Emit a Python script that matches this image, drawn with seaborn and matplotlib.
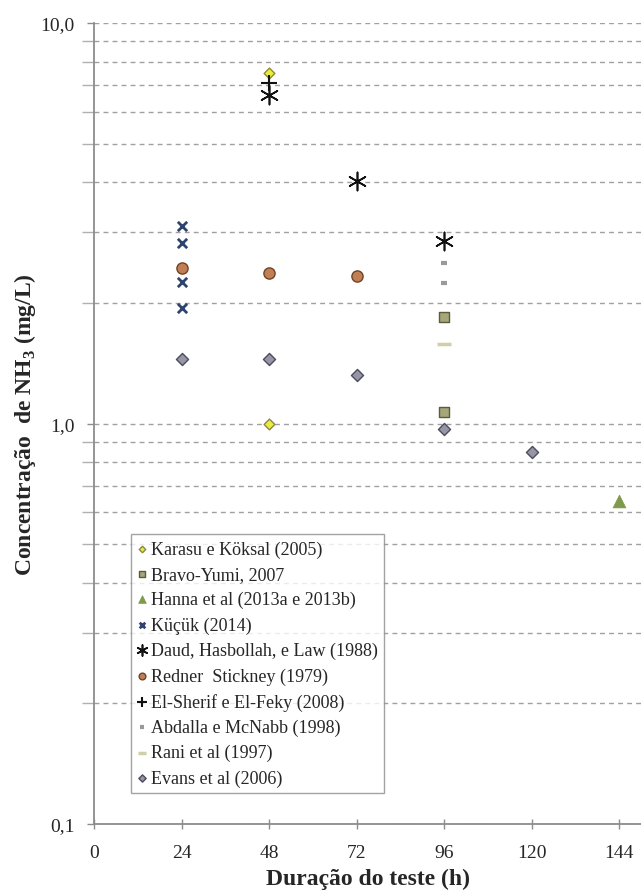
import matplotlib
matplotlib.use("Agg")
import matplotlib.pyplot as plt
import seaborn as sns
import pandas as pd
from matplotlib.ticker import FixedLocator, LogLocator, NullFormatter, FixedFormatter

# Measured NH3 concentrations (mg/L) by test duration (h), per study
karasu_x = [48, 48]
karasu_y = [7.5, 1.0]
bravo_x = [96, 96]
bravo_y = [1.84, 1.07]
hanna_x = [144]
hanna_y = [0.64]
kucuk_x = [24, 24, 24, 24]
kucuk_y = [3.11, 2.82, 2.25, 1.94]
daud_x = [48, 72, 96]
daud_y = [6.6, 4.03, 2.85]
redner_x = [24, 48, 72]
redner_y = [2.44, 2.37, 2.33]
elsherif_x = [48]
elsherif_y = [7.1]
abdalla_x = [96, 96]
abdalla_y = [2.51, 2.24]
rani_x = [96]
rani_y = [1.58]
evans_x = [24, 48, 72, 96, 120]
evans_y = [1.45, 1.45, 1.32, 0.97, 0.85]

x_ticks = [0, 24, 48, 72, 96, 120, 144]
y_major = [0.1, 1.0, 10.0]
y_major_labels = ["0,1", "1,0", "10,0"]

sns.set_style("white")
plt.rcParams["font.family"] = ["Liberation Serif", "DejaVu Serif"]
plt.rcParams["mathtext.fontset"] = "custom"
plt.rcParams["mathtext.rm"] = "Liberation Serif"
plt.rcParams["mathtext.bf"] = "Liberation Serif:bold"

fig = plt.figure(figsize=(6.41, 8.95), dpi=100)
ax = fig.add_axes([94 / 641, 1 - 825 / 895, 1 - 94 / 641, (825 - 24) / 895])

series = [
    ("Karasu e Köksal (2005)", karasu_x, karasu_y,
     dict(marker="D", s=30, color="#ecec3c", edgecolor="#8a8a40", linewidth=1.0)),
    ("Bravo-Yumi, 2007", bravo_x, bravo_y,
     dict(marker="s", s=42, color="#a6a67a", edgecolor="#5c5c3c", linewidth=1.0)),
    ("Hanna et al (2013a e 2013b)", hanna_x, hanna_y,
     dict(marker="^", s=85, color="#7e9a4a", edgecolor="#7e9a4a", linewidth=0.5)),
    ("Küçük (2014)", kucuk_x, kucuk_y,
     dict(marker="x", s=45, color="#2e4470", linewidth=2.0)),
    ("Daud, Hasbollah, e Law (1988)", daud_x, daud_y,
     dict(marker=(6, 2, 0), s=170, color="#111111", linewidth=1.2)),
    ("Redner  Stickney (1979)", redner_x, redner_y,
     dict(marker="o", s=65, color="#c27f56", edgecolor="#6e4426", linewidth=1.0)),
    ("El-Sherif e El-Feky (2008)", elsherif_x, elsherif_y,
     dict(marker="+", s=130, color="#111111", linewidth=1.5)),
    ("Abdalla e McNabb (1998)", abdalla_x, abdalla_y,
     dict(marker="_", s=20, color="#9a9a9a", linewidth=3.0)),
    ("Rani et al (1997)", rani_x, rani_y,
     dict(marker="_", s=110, color="#cfcfa8", linewidth=2.5)),
    ("Evans et al (2006)", evans_x, evans_y,
     dict(marker="D", s=38, color="#9696a6", edgecolor="#4c4c5c", linewidth=1.0)),
]

for label, xs, ys, kw in series:
    df = pd.DataFrame({"h": xs, "nh3": ys})
    sns.scatterplot(data=df, x="h", y="nh3", ax=ax, label=label, zorder=3, **kw)

ax.set_yscale("log")
ax.set_ylim(0.1, 10)
ax.set_xlim(0, 150)

ax.xaxis.set_major_locator(FixedLocator(x_ticks))
ax.yaxis.set_major_locator(FixedLocator(y_major))
ax.yaxis.set_major_formatter(FixedFormatter(y_major_labels))
ax.yaxis.set_minor_locator(LogLocator(base=10, subs=range(2, 10)))
ax.yaxis.set_minor_formatter(NullFormatter())

# Dashed horizontal gridlines at every major and minor level
ax.grid(False)
ax.yaxis.grid(True, which="both", color="#a0a0a0", linestyle=(0, (3.5, 3)), linewidth=1.0)
ax.set_axisbelow(True)

for side in ["top", "right"]:
    ax.spines[side].set_visible(False)
for side in ["left", "bottom"]:
    ax.spines[side].set_color("#8c8c8c")
    ax.spines[side].set_linewidth(1.3)

ax.tick_params(axis="y", which="major", direction="out", length=5, width=1,
               color="#8c8c8c", labelsize=14, pad=9, left=True)
ax.tick_params(axis="y", which="minor", direction="out", length=9, width=1,
               color="#b0b0b0", left=True)
ax.tick_params(axis="x", which="major", direction="inout", length=7, width=1,
               color="#8c8c8c", labelsize=14, pad=11, bottom=True)

ax.set_xlabel("Duração do teste (h)", fontsize=17, fontweight="bold", labelpad=5)
ax.set_ylabel("Concentração  de NH$_\\mathbf{3}$ (mg/L)", fontsize=17,
              fontweight="bold", labelpad=2)

leg = ax.legend(loc="upper left", bbox_to_anchor=(131 / 641, 1 - 535 / 895),
                bbox_transform=fig.transFigure, borderaxespad=0, frameon=True,
                fancybox=False, fontsize=13, labelspacing=0.45, handlelength=0.5,
                handletextpad=0.25, borderpad=0.35, markerscale=0.6)
leg.get_frame().set_edgecolor("#8c8c8c")
leg.get_frame().set_linewidth(1.0)

fig.savefig("out.png", dpi=100)
